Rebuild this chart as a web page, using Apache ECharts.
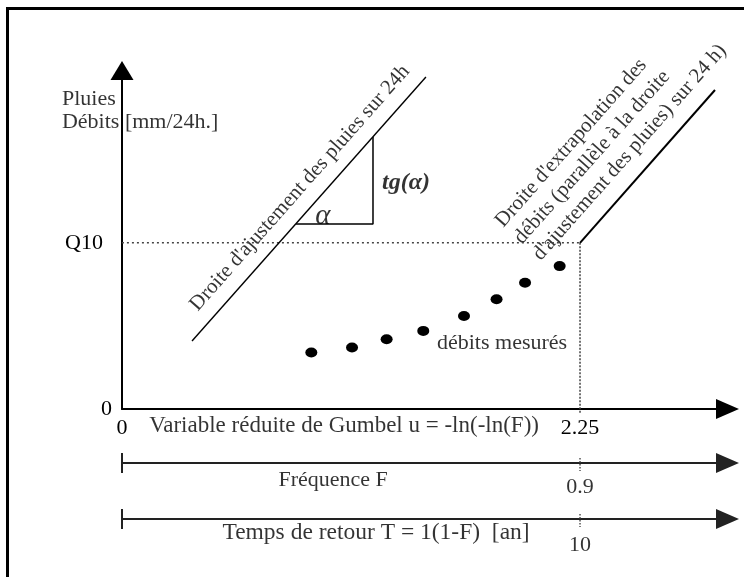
<!DOCTYPE html>
<html>
<head>
<meta charset="utf-8">
<script src="https://cdn.jsdelivr.net/npm/echarts@6/dist/echarts.min.js"></script>
<style>
  html, body { margin: 0; padding: 0; background: #fff; }
  #chart { width: 744px; height: 577px; }
</style>
</head>
<body>
<div id="chart"></div>
<script>
// x = Gumbel reduced variable u, y = rain / discharge (Q10 set to 100)
const uTicks = [0, 2.25]
const uLabels = ['0', '2.25']
const yTicks = [0, 100]
const yLabels = ['0', 'Q10']

// measured discharges
const debitsU = [0.93, 1.13, 1.30, 1.48, 1.68, 1.84, 1.98, 2.15]
const debitsQ = [34, 37, 42, 47, 56, 66, 76, 86]

// rain fit line and the parallel extrapolation line
const pluiesU = [0.344, 1.493]
const pluiesQ = [40.9, 199.8]
const extrapU = [2.25, 2.913]
const extrapQ = [100, 192]

// slope triangle on the rain line
const triU = [0.855, 1.233, 1.233]
const triQ = [111.3, 111.3, 163.7]

const U_MAX = 2.918
const FONT = 'Liberation Serif'
const INK = '#000'

const zip = (xs, ys) => xs.map((x, i) => [x, ys[i]])
const fmt = (ticks, labels) => v => {
  const i = ticks.indexOf(v)
  return i < 0 ? '' : labels[i]
}

// text notes placed in data coordinates of the main grid
const note = (text, u, q, extra) => ({
  value: [u, q],
  name: text,
  label: Object.assign({
    show: true, position: 'inside', formatter: '{b}',
    color: INK, fontFamily: FONT, fontSize: 22
  }, extra)
})
const notes = [
  note('Pluies\nDébits [mm/24h.]', -0.295, 179.6, { align: 'left', lineHeight: 23 }),
  note('débits mesurés', 1.867, 39.7),
  note('Variable réduite de Gumbel u = -ln(-ln(F))', 1.091, -10.2, { fontSize: 23 }),
  note('Fréquence F', 1.037, -42.7),
  note('0.9', 2.25, -46.9),
  note('Temps de retour T = 1(1-F)  [an]', 1.248, -74.6, { fontSize: 23.5 }),
  note('10', 2.25, -81.9),
  note('α', 0.987, 116.2, { fontStyle: 'italic', fontSize: 29 }),
  note('tg(α)', 1.395, 136.0, { fontStyle: 'italic', fontWeight: 'bold', fontSize: 24 }),
  note("Droite d'ajustement des pluies sur 24h", 0.874, 133.0, { rotate: 48.5, fontSize: 21 }),
  note("Droite d'extrapolation des\ndébits (parallèle à la droite\nd'ajustement des pluies) sur 24 h)",
    1.945, 101.1, { rotate: 48.5, fontSize: 21, align: 'left', lineHeight: 25 })
]

const lowerAxis = i => ({
  type: 'value', gridIndex: i, min: 0, max: U_MAX,
  axisLine: {
    onZero: true,
    lineStyle: { color: '#222', width: 2.2 },
    symbol: ['none', 'triangle'], symbolSize: [20, 23], symbolOffset: [0, 11.5]
  },
  axisTick: { show: false }, axisLabel: { show: false }, splitLine: { show: false }
})
const lowerY = i => ({ type: 'value', gridIndex: i, min: -1, max: 1, show: false })

const seg = (data, style, xi) => ({
  type: 'line', data, xAxisIndex: xi || 0, yAxisIndex: xi || 0,
  symbol: 'none', silent: true, clip: false, lineStyle: style
})

const chart = echarts.init(document.getElementById('chart'))
chart.setOption({
  animation: false,
  backgroundColor: '#fff',
  graphic: [{
    type: 'rect', silent: true,
    shape: { x: 7.5, y: 8.5, width: 900, height: 800 },
    style: { fill: 'none', stroke: '#000', lineWidth: 3 }
  }],
  grid: [
    { left: 122, right: 28, top: 80, bottom: 168 },
    { left: 122, right: 28, top: 453, height: 20 },
    { left: 122, right: 28, top: 509, height: 20 }
  ],
  xAxis: [
    {
      type: 'value', min: 0, max: U_MAX, interval: 2.25,
      axisLine: {
        lineStyle: { color: INK, width: 2 },
        symbol: ['none', 'triangle'], symbolSize: [20, 23], symbolOffset: [0, 11.5]
      },
      axisTick: { show: false }, splitLine: { show: false },
      axisLabel: {
        margin: 8, color: INK, fontFamily: FONT, fontSize: 22,
        formatter: fmt(uTicks, uLabels)
      }
    },
    lowerAxis(1),
    lowerAxis(2)
  ],
  yAxis: [
    {
      type: 'value', min: 0, max: 198, interval: 100,
      axisLine: {
        lineStyle: { color: INK, width: 2 },
        symbol: ['none', 'triangle'], symbolSize: [23, 19], symbolOffset: [0, 9.5]
      },
      axisTick: { show: false }, splitLine: { show: false },
      axisLabel: {
        margin: 10, color: INK, fontFamily: FONT, fontSize: 22,
        formatter: v => {
          const s = fmt(yTicks, yLabels)(v)
          return s === 'Q10' ? '{q|Q10}' : s
        },
        rich: { q: { fontFamily: FONT, fontSize: 22, color: INK, padding: [0, 9, 0, 0] } }
      }
    },
    lowerY(1),
    lowerY(2)
  ],
  series: [
    // Q10 guides
    seg([[-0.025, 100], [2.25, 100]], { color: '#444', width: 1.5, type: [2, 3] }),
    seg([[2.25, 100], [2.25, -2.5]], { color: '#444', width: 1.5, type: [2, 1.5] }),
    // fitted lines
    seg(zip(pluiesU, pluiesQ), { color: INK, width: 1.4 }),
    seg(zip(extrapU, extrapQ), { color: INK, width: 2 }),
    seg(zip(triU, triQ), { color: INK, width: 1.5 }),
    // start bars and 2.25 marks on the lower axes
    seg([[0, -1], [0, 1]], { color: '#222', width: 2 }, 1),
    seg([[0, -1], [0, 1]], { color: '#222', width: 2 }, 2),
    seg([[2.25, 0.5], [2.25, -0.8]], { color: '#555', width: 1.5, type: [1.5, 1.5] }, 1),
    seg([[2.25, 0.5], [2.25, -0.8]], { color: '#555', width: 1.5, type: [1.5, 1.5] }, 2),
    {
      name: 'débits mesurés', type: 'scatter', silent: true,
      data: zip(debitsU, debitsQ),
      symbol: 'circle', symbolSize: [12, 10],
      itemStyle: { color: '#000', opacity: 1 }
    },
    {
      type: 'scatter', silent: true, clip: false,
      symbolSize: 0, data: notes
    }
  ]
})
</script>
</body>
</html>
